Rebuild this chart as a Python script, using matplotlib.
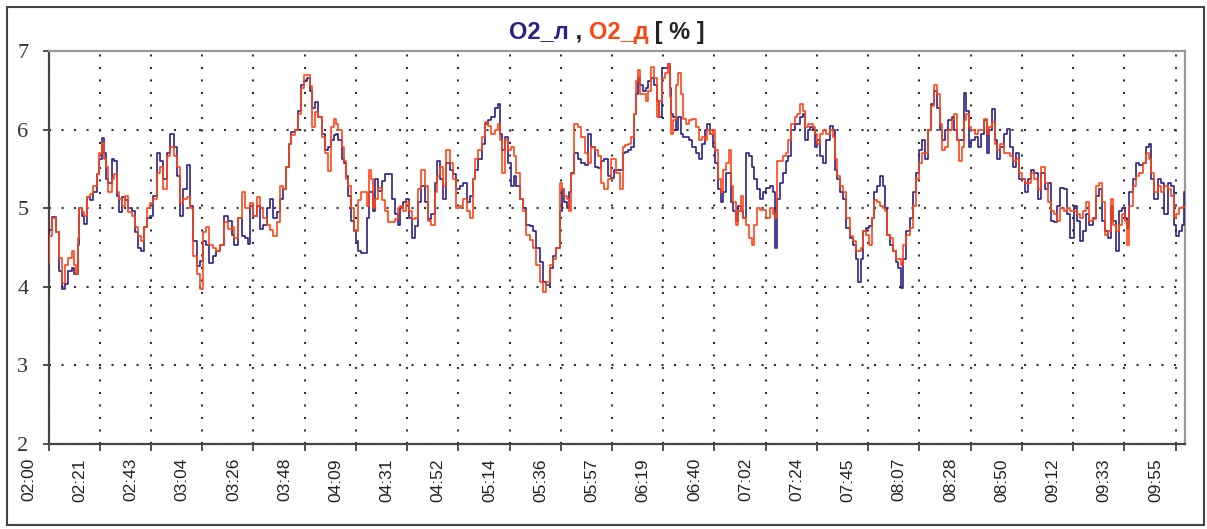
"""
O2 left / right trace, 02:00 - 10:00, redrawn in the old Excel look.
"""

import numpy as np
import matplotlib
matplotlib.use("Agg")
import matplotlib.pyplot as plt
from matplotlib.patches import Rectangle
from matplotlib.transforms import ScaledTranslation, blended_transform_factory
from matplotlib.offsetbox import TextArea, HPacker, AnchoredOffsetbox

# minutes after 02:00
minutes = [
    0.0, 0.6, 2.0, 4.1, 4.8, 6.2, 7.7, 9.1, 10.5, 11.2, 11.9, 12.6, 13.3, 14.7, 15.4, 16.8,
    18.2, 19.6, 21.0, 21.7, 23.1, 23.8, 24.5, 25.9, 27.3, 28.3, 29.4, 30.1, 31.5, 32.9, 34.3,
    35.7, 37.1, 38.5, 39.5, 40.7, 42.1, 43.5, 44.9, 46.3, 47.7, 49.1, 50.5, 52.2, 53.3, 54.7,
    56.1, 57.5, 58.9, 60.3, 61.7, 63.1, 64.5, 65.9, 67.0, 68.7, 70.1, 71.5, 72.9, 75.0, 76.5,
    77.9, 78.8, 80.7, 82.1, 83.5, 84.5, 85.6, 87.0, 88.4, 89.8, 91.2, 92.6, 94.0, 95.4, 96.8,
    98.2, 99.6, 100.7, 101.7, 103.1, 104.5, 105.9, 107.3, 108.0, 109.5, 110.6, 111.6, 113.0,
    114.4, 115.8, 117.2, 118.2,
    120.0, 120.7, 121.4, 122.8, 124.2, 124.9, 125.6, 127.0, 128.4, 129.1, 130.1, 131.2, 132.6,
    134.0, 134.7, 135.4, 136.1, 137.1, 138.2, 139.6, 141.1, 142.5, 143.9, 145.3, 146.7, 147.8,
    148.8, 150.2, 151.2, 152.3, 153.7, 155.1, 156.5, 157.9, 159.3, 160.7, 162.1, 163.5, 164.2,
    165.6, 167.0, 168.4, 169.8, 171.2, 172.6, 174.0, 175.5, 176.9, 178.3, 179.2, 180.4, 181.8,
    183.2, 184.6, 186.0, 187.4, 188.8, 189.9, 190.9, 191.6, 193.0, 194.4, 195.5, 196.5, 197.9,
    199.3, 200.7, 202.1, 203.5, 204.9, 206.3, 207.7, 209.1, 210.5, 212.0, 213.4, 214.8, 216.2,
    216.9, 218.0, 219.0, 220.0, 220.8, 222.5, 223.9, 225.3, 226.7, 228.1, 229.5, 230.9, 232.3,
    233.7, 234.8, 236.5, 237.9,
    238.6, 240.0, 241.4, 242.6, 243.5, 245.0, 246.4, 247.3, 248.2, 248.9, 249.9, 251.3, 252.3,
    253.4, 254.8, 255.8, 256.9, 258.0, 259.0, 260.4, 261.4, 262.1, 262.8, 263.9, 265.0, 266.0,
    267.0, 267.8, 269.2, 270.6, 272.0, 273.5, 274.9, 275.8, 277.2, 278.2, 279.4, 280.5, 281.5,
    282.9, 283.8, 285.0, 286.1, 287.1, 288.1, 289.2, 290.3, 291.3, 292.3, 293.4, 294.5, 295.9,
    296.9, 297.9, 299.0, 300.4, 301.8, 303.2, 304.6, 305.8, 306.7, 307.4, 308.8, 310.2, 311.4,
    312.3, 313.8, 315.2, 316.1, 317.3, 318.4, 319.4, 320.4, 321.5, 322.6, 323.6, 324.6, 325.7,
    327.1, 328.5, 329.9, 331.0, 332.0, 333.0, 334.1, 335.5, 336.9, 338.3, 339.7, 340.9, 341.8,
    342.8, 343.9, 345.1, 346.5, 347.5, 348.4, 349.6, 351.0, 352.1, 353.1, 354.1, 355.2, 356.6,
    357.7,
    358.7, 359.8, 360.8, 362.2, 363.6, 365.0, 366.4, 367.4, 368.8, 369.9, 371.3, 372.7, 373.8,
    375.2, 376.2, 377.2, 378.6, 380.0, 381.4, 382.3, 383.2, 384.4, 385.4, 386.3, 387.5, 388.4,
    389.6, 391.0, 392.4, 393.5, 394.9, 395.9, 397.3, 398.4, 399.4, 400.5, 401.9, 403.3, 404.7,
    405.7, 407.1, 408.5, 409.5, 410.9, 412.3, 413.7, 414.8, 416.2, 417.6, 419.1, 420.5, 421.9,
    423.0, 424.4, 425.8, 427.2, 428.6, 430.0, 431.4, 432.8, 434.2, 435.2, 436.6, 438.0, 439.4,
    440.8, 442.2, 443.2, 444.6, 445.7, 447.1, 448.3, 449.2, 450.6, 451.8, 453.0, 454.2, 454.9,
    456.3, 457.7, 459.1, 460.5, 461.9, 463.3, 464.3, 465.4, 466.8, 468.2, 469.6, 471.0, 472.4,
    473.8, 474.9, 475.9, 477.3, 478.3, 478.9,
]

# O2_л (left) in %
o2_l = [
    4.53, 4.72, 4.89, 4.70, 4.20, 3.97, 4.03, 4.20, 4.24, 4.16, 4.16, 4.53, 5.00, 4.90, 4.80, 5.14,
    5.10, 5.20, 5.43, 5.62, 5.89, 5.70, 5.37, 5.32, 5.62, 5.60, 5.16, 4.95, 5.14, 5.10, 5.00,
    4.97, 4.70, 4.49, 4.46, 4.76, 4.87, 4.90, 5.16, 5.70, 5.60, 5.37, 5.70, 5.95, 5.78, 5.41,
    4.90, 5.24, 5.55, 5.03, 4.58, 4.26, 4.33, 4.58, 4.53, 4.30, 4.39, 4.45, 4.53, 4.90, 4.84,
    4.66, 4.53, 4.87, 4.64, 4.62, 4.55, 5.03, 4.90, 5.03, 4.74, 4.78, 5.00, 5.12, 4.87, 4.95,
    5.12, 5.24, 5.53, 5.82, 5.97, 5.99, 6.24, 6.57, 6.62, 6.66, 6.49, 6.28, 6.35,
    6.16, 5.95, 5.74, 5.78,
    5.87, 5.93, 5.94, 5.87, 5.62, 5.57, 5.41, 5.16, 4.84, 4.71, 4.58, 4.45, 4.43,
    4.43, 4.88, 5.20, 5.20, 4.97, 5.37, 5.22, 5.35, 5.43, 5.43, 5.12, 4.92, 4.79,
    5.00, 5.08, 5.12, 4.88, 4.62, 4.77, 5.08, 5.28, 5.08, 4.86, 4.92, 5.32, 5.60,
    5.37, 5.12, 5.57, 5.49, 5.43, 5.24, 5.28, 5.32, 5.08, 5.16, 5.37, 5.49, 5.62,
    5.82, 6.07, 6.12, 6.16, 6.28, 6.33, 5.95, 5.74, 5.91, 5.57, 5.28, 5.41, 5.28,
    5.12, 5.00, 4.79, 4.77, 4.71, 4.49, 4.32, 4.06, 4.02, 4.24, 4.39, 4.49, 4.97,
    5.24, 5.08, 5.00, 5.20, 5.45, 5.70, 5.62, 5.57, 5.55, 5.95, 5.78, 5.53, 5.51,
    5.60, 5.62, 5.41, 5.39,
    5.49, 5.49, 5.49, 5.70, 5.72, 5.74, 5.78, 6.20, 6.45, 6.66, 6.57, 6.49, 6.53,
    6.62, 6.66, 6.57, 6.37, 6.16, 6.78, 6.78, 6.83, 6.53, 6.20, 6.16, 5.99, 6.16,
    5.95, 5.91, 5.91, 5.87, 5.78, 5.70, 5.62, 5.82, 5.99, 6.07, 5.95, 5.78, 5.57,
    5.24, 5.08, 5.20, 5.45, 5.45, 5.08, 4.97, 4.84, 5.03, 4.97, 4.88, 5.70, 5.66,
    5.53, 5.37, 5.24, 5.12, 5.20, 5.26, 5.28, 5.20, 4.49, 5.12, 5.32, 5.45, 5.60,
    5.66, 5.99, 6.07, 6.07, 6.16, 6.20, 5.87, 5.99, 6.03, 5.99, 5.78, 5.87, 5.66,
    5.57, 5.87, 6.05, 5.99, 5.49, 5.37, 5.20, 5.12, 4.75, 4.62, 4.53, 4.36, 4.06,
    4.36, 4.71, 4.75, 4.77, 4.88, 5.20, 5.28, 5.41, 5.28, 5.00, 4.66, 4.53, 4.45,
    4.32,
    4.24, 3.98, 4.36, 4.71, 4.88, 5.20, 5.45, 5.74, 5.87, 5.62, 5.99, 6.33, 6.49,
    6.28, 5.99, 5.87, 5.99, 6.12, 6.16, 5.99, 5.87, 5.87, 5.87, 6.47, 6.24, 5.78,
    5.87, 5.91, 5.78, 5.95, 6.12, 5.70, 5.99, 6.26, 5.87, 5.62, 5.78, 5.95, 6.01,
    5.78, 5.53, 5.70, 5.37, 5.37, 5.20, 5.37, 5.49, 5.45, 5.12, 5.45, 5.24, 5.32,
    4.84, 4.82, 5.03, 5.26, 5.24, 4.92, 4.62, 5.03, 4.84, 4.58, 4.71, 4.92, 4.79,
    4.88, 5.16, 5.24, 4.84, 4.71, 4.62, 5.03, 4.84, 4.45, 4.97, 5.00, 4.88, 4.75,
    5.20, 5.37, 5.57, 5.55, 5.57, 5.78, 5.82, 5.37, 5.12, 5.37, 5.32, 4.92, 5.32,
    5.28, 4.79, 4.64, 4.71, 4.79, 5.20,
]

# O2_д (right) in %
o2_d = [
    4.30, 4.65, 4.87, 4.70, 4.37, 4.05, 4.28, 4.37, 4.45, 4.28, 4.16, 4.62, 5.00, 4.95, 4.90, 5.14,
    5.18, 5.28, 5.43, 5.70, 5.83, 5.62, 5.53, 5.20, 5.37, 5.43, 5.20, 5.12, 5.03, 5.16, 4.95,
    4.90, 4.76, 4.64, 4.58, 4.76, 5.00, 5.07, 5.12, 5.45, 5.53, 5.24, 5.66, 5.78, 5.66, 5.53,
    5.07, 5.12, 5.14, 5.00, 4.39, 4.16, 3.97, 4.70, 4.76, 4.53, 4.49, 4.45, 4.53, 4.83, 4.74,
    4.76, 4.62, 4.87, 5.20, 5.00, 5.00, 5.07, 4.90, 5.14, 5.00, 4.87, 4.78, 4.72, 4.64, 4.83,
    5.28, 5.24, 5.53, 5.82, 5.93, 5.99, 6.20, 6.53, 6.69, 6.69, 6.55, 6.03, 6.22,
    6.16, 5.91, 5.70, 5.47,
    6.03, 6.14, 6.07, 5.99, 5.78, 5.60, 5.37, 5.28, 5.00, 4.71, 4.71, 5.10, 5.20,
    5.20, 5.03, 5.49, 5.37, 5.00, 5.12, 5.26, 5.10, 4.97, 4.82, 4.82, 4.86, 5.00,
    5.03, 4.97, 5.08, 4.97, 4.86, 4.88, 5.24, 5.49, 5.28, 4.84, 4.79, 5.20, 5.41,
    5.53, 5.28, 5.74, 5.57, 5.37, 5.00, 5.03, 5.12, 4.97, 4.88, 5.37, 5.62, 5.74,
    5.91, 6.10, 6.05, 5.95, 5.99, 6.07, 5.87, 5.45, 5.87, 5.74, 5.78, 5.66, 5.45,
    5.12, 4.97, 4.66, 4.60, 4.49, 4.28, 4.06, 3.93, 4.06, 4.28, 4.36, 4.49, 5.32,
    5.24, 5.16, 5.12, 4.97, 5.43, 6.07, 6.03, 5.91, 5.70, 5.57, 5.78, 5.74, 5.66,
    5.32, 5.24, 5.37, 5.62,
    5.62, 5.45, 5.24, 5.78, 5.80, 5.82, 5.91, 6.20, 6.62, 6.76, 6.45, 6.45, 6.37,
    6.49, 6.80, 6.66, 6.16, 6.37, 6.66, 6.72, 6.83, 6.41, 5.95, 6.12, 6.57, 6.72,
    6.45, 6.14, 6.07, 6.12, 6.14, 6.03, 5.87, 5.91, 5.87, 5.99, 5.95, 5.99, 5.74,
    5.37, 5.20, 5.49, 5.57, 5.74, 5.28, 5.08, 4.79, 4.97, 5.16, 4.88, 4.79, 4.62,
    4.53, 4.79, 5.00, 4.98, 4.98, 4.88, 5.00, 4.92, 4.88, 5.60, 5.60, 5.66, 5.70,
    5.87, 6.07, 6.16, 6.20, 6.33, 6.24, 6.03, 6.07, 6.07, 6.03, 5.95, 5.82, 5.95,
    5.99, 5.95, 5.99, 5.91, 5.62, 5.41, 5.28, 5.20, 4.88, 4.64, 4.58, 4.45, 4.45,
    4.49, 4.71, 4.66, 4.53, 4.88, 5.10, 5.08, 5.03, 5.00, 4.97, 4.66, 4.62, 4.45,
    4.36,
    4.36, 4.28, 4.53, 4.66, 4.75, 5.03, 5.37, 5.57, 5.70, 5.70, 5.99, 6.30, 6.57,
    6.45, 6.07, 5.74, 5.78, 5.99, 6.12, 6.20, 5.87, 5.60, 5.78, 6.12, 6.20, 6.03,
    5.99, 5.95, 5.99, 6.00, 6.14, 5.95, 6.03, 6.10, 5.82, 5.74, 5.82, 5.70, 5.70,
    5.66, 5.60, 5.62, 5.45, 5.37, 5.32, 5.32, 5.45, 5.37, 5.24, 5.53, 5.32, 5.08,
    4.97, 4.92, 4.84, 5.00, 4.97, 5.00, 4.97, 4.97, 4.92, 4.88, 4.97, 5.08, 4.84,
    4.86, 5.28, 5.32, 5.08, 4.66, 4.71, 5.12, 4.79, 4.71, 4.79, 4.92, 4.84, 4.53,
    5.03, 5.28, 5.41, 5.45, 5.57, 5.70, 5.62, 5.45, 5.20, 5.28, 5.20, 5.28, 5.24,
    5.16, 4.88, 4.92, 5.00, 5.02, 5.02,
]

tick_labels = ["02:00", "02:21", "02:43", "03:04", "03:26", "03:48", "04:09", "04:31",
               "04:52", "05:14", "05:36", "05:57", "06:19", "06:40", "07:02", "07:24",
               "07:45", "08:07", "08:28", "08:50", "09:12", "09:33", "09:55"]

NAVY = "#2f1f85"
ORANGE = "#ff4515"

fig = plt.figure(figsize=(12.07, 5.29), dpi=100)
ax = fig.add_axes([48.5 / 1207, 1 - 444 / 529, (1185 - 48.5) / 1207, (444 - 51) / 529])

ax.plot(minutes, o2_l, color=NAVY, lw=1.2, drawstyle="steps-mid", zorder=3)
ax.plot(minutes, o2_d, color=ORANGE, lw=1.2, drawstyle="steps-mid", zorder=4)

ax.set_xlim(0, 479)
ax.set_ylim(2, 7)

# category-like x axis: each label sits left of its tick (Excel style)
ticks = np.linspace(0, 475, len(tick_labels))
ax.set_xticks(ticks)
ax.set_xticklabels([])
trans = blended_transform_factory(ax.transData, ax.transAxes) + \
    ScaledTranslation(-20 / 100, -14 / 100, fig.dpi_scale_trans)
for t, lab in zip(ticks, tick_labels):
    ax.text(t, 0, lab, transform=trans, rotation=90, ha="center", va="top",
            fontsize=12.5, family="Liberation Sans", color="#222222", clip_on=False)

ax.set_yticks([2, 3, 4, 5, 6, 7])
ax.set_yticklabels(["2", "3", "4", "5", "6", "7"], fontsize=16, family="Liberation Serif",
                   color="#333333")

ax.tick_params(axis="x", direction="out", length=5, width=1.2, color="#333333", pad=3)
ax.tick_params(axis="y", direction="out", length=4.5, width=1.2, color="#333333", pad=10)

ax.grid(True, linestyle=(0, (1, 5)), color="#333333", lw=1.5)
ax.set_axisbelow(True)

for side in ["left", "bottom"]:
    ax.spines[side].set_color("#444444")
    ax.spines[side].set_linewidth(1.6)
for side in ["top", "right"]:
    ax.spines[side].set_color("#999999")
    ax.spines[side].set_linewidth(1.6)

# title with coloured pieces
tprops = dict(fontsize=17, fontweight="bold", family="Liberation Sans")
parts = [("O2_л", NAVY), (" , ", "#222222"), ("O2_д", ORANGE), (" [ % ]", "#222222")]
boxes = [TextArea(s, textprops=dict(color=c, **tprops)) for s, c in parts]
title = AnchoredOffsetbox(loc="center", child=HPacker(children=boxes, sep=0, pad=0),
                          bbox_to_anchor=(607 / 1207, 1 - 32 / 529),
                          bbox_transform=fig.transFigure, frameon=False, pad=0, borderpad=0)
fig.add_artist(title)

# outer chart frame
fig.add_artist(Rectangle((7 / 1207, 4 / 529), (1204 - 7) / 1207, (525 - 7) / 529,
                         transform=fig.transFigure, fill=False, edgecolor="#444444", lw=1.5))

fig.savefig("out.png", dpi=100)
